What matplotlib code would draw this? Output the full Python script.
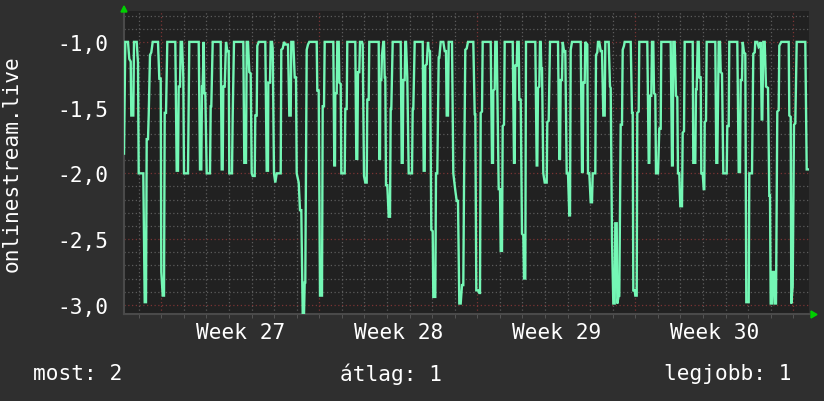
import numpy as np
import matplotlib
matplotlib.use('Agg')
import matplotlib.pyplot as plt

# one sample per graph step (rrd consolidation), ~1.063 h per step
STEP_H = 1.0633
N_STEPS = 685
FIRST_WEEK_START_H = 39.7   # Monday 00:00 of week 27, hours after graph start
WEEKS = [27, 28, 29, 30]

step_idx = [
    0, 1.3, 4, 5.3, 6.7, 7.3, 9.3, 10, 12.7, 14, 14.7, 19.3, 20.7, 22, 22.7, 24, 24.7, 26, 27.3, 28.7,
    34, 35.3, 36.7, 37.3, 38.7, 40, 40.7, 42, 43.3, 51.3, 52.7, 54, 54.7, 56, 56.7, 58, 59.3, 60, 64, 65.3,
    74.7, 76, 77.3, 78, 78.7, 79.7, 80.3, 81.3, 82.7, 86, 86.7, 87.3, 88.7, 96.7, 97.7, 98.7, 99.3, 100.7, 102, 103.3,
    104.7, 105.3, 108, 108.7, 110,
    119.3, 120.3, 122, 122.7, 124, 125.3, 126.7, 127.7, 128.7, 130.7, 131.3, 132.7, 133.3, 134.7, 141.3, 142.7, 144,
    144.3, 146, 146.7, 148, 148.7, 150, 151.3, 152.7, 156.7, 157.3, 158.7, 160, 161.3, 164, 165.3, 166.7, 167.3,
    169.3, 170.7, 172, 172.7, 174.7, 176, 177.3, 178.7, 180, 180.7, 181.3, 182.7, 184, 185.3, 192.7, 193.3, 194.7,
    196, 198, 198.7, 200, 200.7, 209.3, 210.3, 211, 211.3, 212.7, 213.3, 214.7, 215.3, 216.7, 217.3, 220.7, 221.3,
    222.7, 223.3,
    231.3, 232.3, 233.3, 234, 235.3, 236, 238, 238.7, 240, 241.3, 242.7, 243.3, 244.7, 245.3, 254.7, 255.3, 256,
    256.3, 257.3, 258, 259.3, 260, 260.7, 261.3, 262, 263.3, 264.7, 266, 266.7, 267.3, 268.7, 276.7, 277.7, 278.7,
    279.3, 280.7, 281.3, 282, 283.3, 284.7, 288, 288.7, 289.3, 290.7, 298.7, 299.7, 300.7, 301.3, 302.7, 304, 304.7,
    306, 307.3, 308.7, 309.3, 311.3, 312, 313.3, 314.7, 315.3, 316.7, 319.3, 320.7, 322, 322.7, 324, 324.7, 328,
    329.3, 331.3, 332.7, 334, 335.3, 336.7, 338, 339.3, 340,
    341.3, 342.7, 344, 349.3, 350.7, 351.3, 352.3, 354, 355.3, 356, 356.7, 358, 358.7, 366.7, 368, 369, 369.3, 370.7,
    371.3, 372.7, 374.7, 376, 376.7, 378, 378.7, 380, 380.7, 388.7, 390, 390.7, 391.3, 392.7, 393.3, 394.7, 395.3,
    396.7, 398, 399.3, 400, 401.3, 402, 411.3, 412.7, 413.3, 414, 415.3, 416, 416.7, 417.3, 418, 419.3, 420.7, 422.7,
    423.3, 424.7, 426, 434, 435.3, 436, 436.7, 438, 438.7, 440, 441.3, 442.7, 444, 445.3, 446, 446.7, 448,
    456.7, 458, 458.7, 459.3, 460.7, 461.3, 463.3, 464, 465.3, 466.7, 468, 468.7, 471.3, 472, 473.3, 474, 475.3,
    476.7, 478, 479.3, 480.7, 481.3, 484.7, 486, 486.7, 488, 489.3, 490.7, 491.3, 492.7, 493.3, 494.7, 495.3, 496.7,
    498, 498.7, 500, 500.7, 506.7, 508, 508.7, 509.3, 510.7, 511.3, 512.7, 513.3, 514.7, 515.3, 523.3, 524.7, 525.3,
    526, 527.3, 528, 529.3, 530, 531.3, 532, 534, 535.3, 536.7, 537.3, 546.7, 548, 548.7, 549.3, 550.7, 552, 553.3,
    554, 555.3, 556.3, 558, 558.7, 560, 560.7, 568.7,
    569.3, 571.3, 572, 572.7, 573.7, 574.7, 575.3, 576.7, 577.3, 578.7, 579.7, 580.3, 580.7, 582, 582.7, 591.3,
    592.3, 593.3, 594.7, 596, 596.7, 598, 599.3, 602.7, 603.3, 604.7, 605.3, 613.3, 614.7, 616, 616.7, 618, 618.7,
    620, 621.3, 622.3, 624.7, 625.3, 628, 629.3, 630.7, 631.3, 633.3, 634.7, 636, 636.7, 637.7, 638.3, 639.3, 640.7,
    642, 644, 645.3, 646, 646.7, 648, 648.7, 650, 650.7, 652, 653.3, 654.7, 655.3, 657.3, 664.7, 665.3, 666.7, 667.3,
    668.7, 670, 671.3, 672.7, 681.3, 682.7, 684,
]

values = [
    -1.85, -1.0, -1.0, -1.13, -1.15, -1.56, -1.56, -1.0, -1.0, -1.16, -2.0, -2.0, -2.98, -2.98, -1.74, -1.74, -1.56, -1.1, -1.08, -1.0,
    -1.0, -1.28, -1.28, -2.75, -2.93, -2.93, -1.54, -1.54, -1.0, -1.0, -1.98, -1.98, -1.34, -1.34, -1.0, -1.0, -1.27, -2.0, -2.0, -1.0,
    -1.0, -1.97, -1.97, -1.34, -1.34, -1.0, -1.39, -1.39, -2.0, -2.0, -1.49, -1.49, -1.0, -1.0, -1.97, -1.97, -1.34, -1.34, -1.0, -1.07,
    -1.07, -2.0, -2.0, -1.56, -1.0,
    -1.0, -1.92, -1.92, -1.0, -1.0, -1.23, -1.24, -2.0, -2.02, -2.02, -1.56, -1.56, -1.03, -1.0, -1.0, -1.98, -1.98,
    -1.31, -1.31, -1.0, -1.0, -1.05, -2.0, -2.07, -2.0, -2.0, -1.06, -1.05, -1.0, -1.02, -1.02, -1.56, -1.56, -1.0,
    -1.0, -1.27, -1.27, -2.0, -2.07, -2.28, -2.28, -3.07, -3.07, -2.83, -2.83, -1.06, -1.02, -1.0, -1.0, -1.37, -1.37,
    -2.93, -2.93, -1.49, -1.49, -1.0, -1.0, -1.94, -1.94, -1.39, -1.39, -1.0, -1.0, -1.31, -1.32, -2.0, -2.0, -1.51,
    -1.51, -1.0,
    -1.0, -1.89, -1.89, -1.23, -1.23, -1.0, -1.0, -1.02, -2.02, -2.07, -2.07, -1.44, -1.44, -1.0, -1.0, -1.89, -1.89,
    -1.29, -1.29, -1.1, -1.0, -1.0, -1.27, -1.27, -2.09, -2.09, -2.33, -2.33, -1.51, -1.51, -1.0, -1.0, -1.92, -1.92,
    -1.29, -1.29, -1.0, -1.0, -1.27, -2.0, -2.0, -1.51, -1.51, -1.0, -1.0, -1.98, -1.98, -1.18, -1.17, -1.0, -1.06,
    -1.07, -2.43, -2.44, -2.94, -2.94, -2.0, -2.0, -1.12, -1.12, -1.0, -1.0, -1.07, -1.07, -1.56, -1.56, -1.0, -1.0,
    -2.0, -2.13, -2.21, -2.21, -2.99, -2.99, -2.85, -2.85, -2.12,
    -1.06, -1.05, -1.0, -1.0, -1.55, -1.55, -2.89, -2.89, -2.91, -2.91, -1.54, -1.53, -1.0, -1.0, -1.92, -1.92, -1.37, -1.36,
    -1.0, -1.0, -2.12, -2.12, -2.59, -2.59, -1.64, -1.63, -1.0, -1.0, -1.92, -1.92, -1.18, -1.18, -1.0, -1.0, -1.44,
    -1.44, -2.46, -2.47, -2.8, -2.8, -1.0, -1.0, -1.94, -1.94, -1.35, -1.34, -1.0, -1.0, -1.2, -1.2, -2.0, -2.07, -2.07,
    -1.61, -1.6, -1.0, -1.0, -1.89, -1.89, -1.29, -1.29, -1.0, -1.07, -1.07, -2.0, -2.0, -2.32, -2.32, -1.06, -1.0,
    -1.0, -1.99, -1.99, -1.31, -1.31, -1.0, -1.02, -2.0, -2.0, -2.22, -2.22, -2.0, -2.0, -1.1, -1.08, -1.0, -1.0,
    -1.07, -1.07, -1.56, -1.56, -1.0, -1.0, -1.34, -1.35, -2.5, -2.99, -2.99, -2.38, -2.38, -2.99, -2.93, -2.93, -1.63,
    -1.63, -1.06, -1.03, -1.0, -1.0, -1.54, -1.54, -2.89, -2.89, -2.93, -2.93, -1.54, -1.53, -1.0, -1.0, -1.92, -1.92,
    -1.41, -1.41, -1.0, -1.0, -1.39, -1.4, -2.0, -2.0, -1.66, -1.66, -1.0, -1.0, -1.94, -1.94, -1.0, -1.0, -1.41, -1.42,
    -2.0, -2.0, -2.25, -2.25, -1.69, -1.68, -1.0, -1.0,
    -1.92, -1.92, -1.36, -1.36, -1.0, -1.0, -1.27, -1.27, -2.0, -2.0, -2.12, -2.12, -1.61, -1.6, -1.0, -1.0,
    -1.92, -1.92, -1.0, -1.0, -1.23, -1.24, -2.0, -2.0, -1.64, -1.64, -1.0, -1.0, -1.99, -1.99, -1.29, -1.29, -1.0,
    -1.08, -1.09, -2.98, -2.98, -2.0, -2.0, -1.09, -1.08, -1.0, -1.0, -1.04, -1.03, -1.0, -1.59, -1.59, -1.0, -1.0,
    -1.34, -1.35, -2.17, -2.17, -2.99, -2.99, -2.75, -2.75, -2.99, -2.99, -1.53, -1.52, -1.03, -1.0, -1.0, -1.56, -1.57, -2.99,
    -2.86, -1.63, -1.62, -1.0, -1.0, -1.97, -1.97,
]

legend_items = ['most: 2', 'átlag: 1', 'legjobb: 1']
ylabel = 'onlinestream.live'

BG = '#2f2f2f'
PLOT_BG = '#212121'
LINE = '#74f7b5'
GRID = '#5c5c5c'
MAJOR = '#7a3434'
ARROW = '#00d000'
FONT = 'DejaVu Sans Mono'
FS = 15.2

t_days = np.array(step_idx) * STEP_H / 24
x_max = N_STEPS * STEP_H / 24
week0 = FIRST_WEEK_START_H / 24
y_min, y_max = -3.07, -0.765

fig = plt.figure(figsize=(8.24, 4.02), dpi=100, facecolor=BG)
ax = fig.add_axes([124 / 824, 1 - 315 / 402, 685 / 824, 303 / 402])
ax.set_facecolor(PLOT_BG)
ax.set_xlim(0, x_max)
ax.set_ylim(y_min, y_max)

# grid: days / weeks, 0.1 / 0.5
days = week0 + np.arange(-1, 30)
days = days[(days > 0) & (days < x_max)]
week_starts = week0 + 7 * np.arange(len(WEEKS) + 1)
dot = (0, (1, 2))
for d in days:
    is_week = np.any(np.isclose(d, week_starts))
    ax.axvline(d, color=MAJOR if is_week else GRID, lw=0.9, ls=dot, zorder=1)
for v in np.arange(-3.0, -0.75, 0.1):
    is_major = abs(v * 2 - round(v * 2)) < 1e-6
    ax.axhline(v, color=MAJOR if is_major else GRID, lw=0.9, ls=dot, zorder=1)

ax.plot(t_days, values, color=LINE, lw=1.7, zorder=3, solid_joinstyle='miter')

yt = [-3.0, -2.5, -2.0, -1.5, -1.0]
ax.set_yticks(yt)
ax.set_yticklabels([f'{v:.1f}'.replace('.', ',') for v in yt])
ax.set_xticks(week0 + 7 * np.arange(len(WEEKS)) + 3.5)
ax.set_xticklabels([f'Week {w}' for w in WEEKS])
ax.set_xticks(days, minor=True)
ax.tick_params(axis='x', which='major', length=0, pad=6, labelsize=FS, labelcolor='white')
ax.tick_params(axis='x', which='minor', length=3, color=GRID, direction='out')
ax.tick_params(axis='y', which='both', length=0, pad=11, labelsize=FS, labelcolor='white')
for lab in ax.get_xticklabels() + ax.get_yticklabels():
    lab.set_family(FONT)

for s in ['top', 'right']:
    ax.spines[s].set_visible(False)
for s in ['left', 'bottom']:
    ax.spines[s].set_color('#4a4a4a')
    ax.spines[s].set_linewidth(1.5)

ax.set_ylabel(ylabel, color='white', fontsize=FS, family=FONT)
ax.yaxis.set_label_coords(-102 / 685, 0.5)

# rrd style arrow heads
fig.patches.append(plt.Polygon([[121 / 824, 1 - 13 / 402], [127 / 824, 1 - 13 / 402], [124 / 824, 1 - 7 / 402]],
                               closed=True, color=ARROW, transform=fig.transFigure, figure=fig))
fig.patches.append(plt.Polygon([[811 / 824, 1 - 312 / 402], [811 / 824, 1 - 319 / 402], [817 / 824, 1 - 315.5 / 402]],
                               closed=True, color=ARROW, transform=fig.transFigure, figure=fig))

fig.text(33 / 824, 1 - 374 / 402, legend_items[0], color='white', fontsize=FS, family=FONT, va='center', ha='left')
fig.text(391 / 824, 1 - 374 / 402, legend_items[1], color='white', fontsize=FS, family=FONT, va='center', ha='center')
fig.text(791 / 824, 1 - 374 / 402, legend_items[2], color='white', fontsize=FS, family=FONT, va='center', ha='right')

fig.savefig('out.png', dpi=100, facecolor=BG)
